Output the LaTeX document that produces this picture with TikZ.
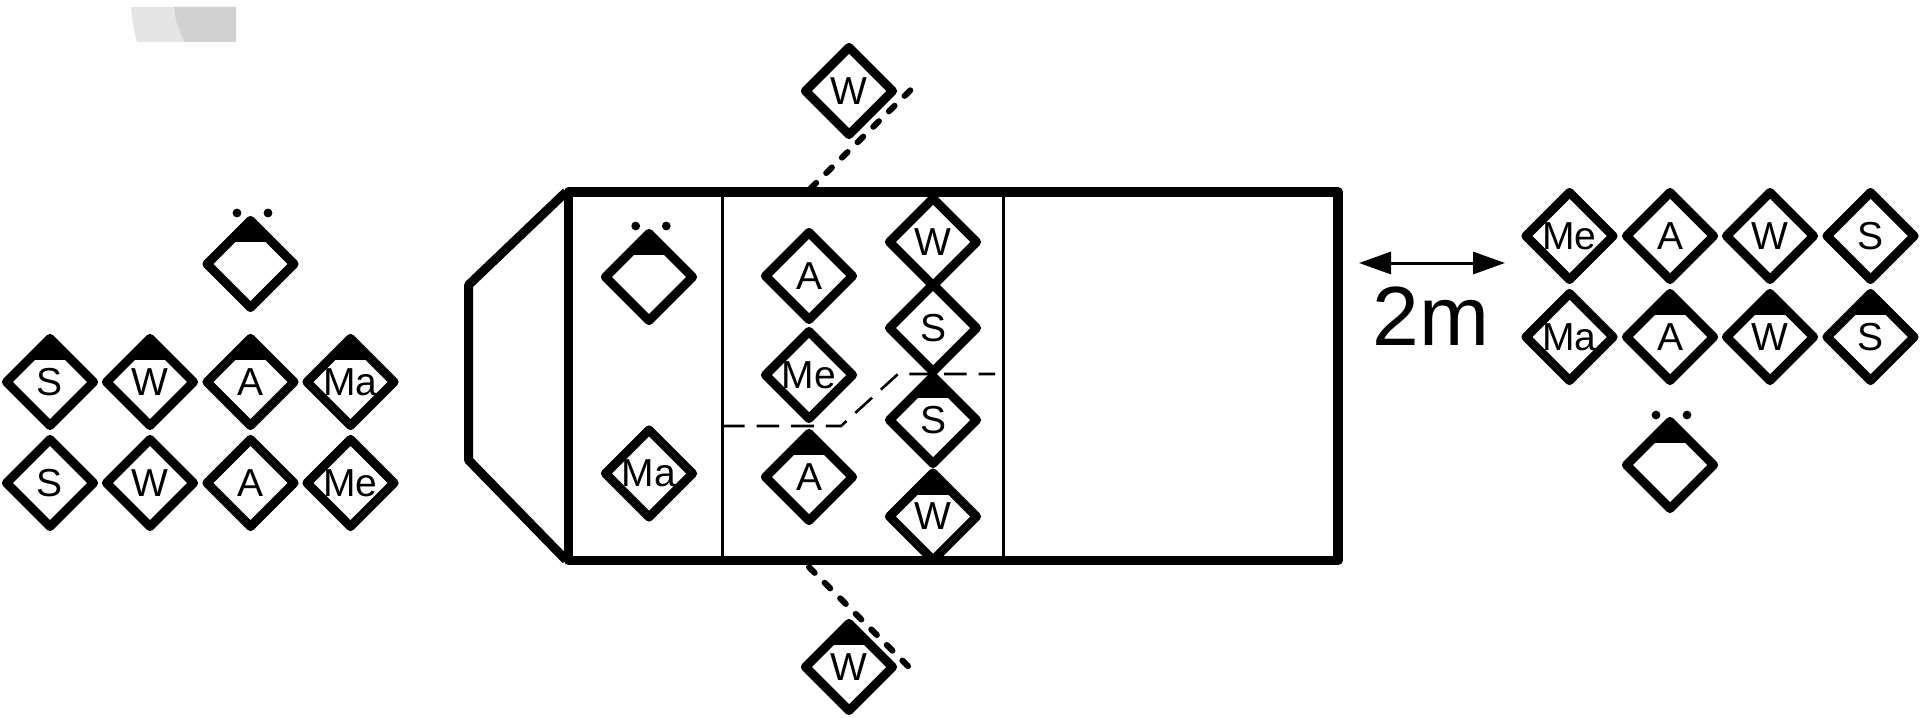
\documentclass[tikz,border=0pt]{standalone}
\usepackage{fontspec}
\setmainfont{Liberation Sans}
\usetikzlibrary{shapes.geometric,arrows.meta}
\tikzset{
  member/.style={diamond,draw,line width=4.5pt,line join=round,inner sep=0pt,outer sep=0pt,
    minimum width=43.6pt,minimum height=43.6pt,font=\fontsize{19.5}{19.5}\selectfont},
  facing/.style={path picture={\fill (path picture bounding box.north west) rectangle
    ([yshift=-11pt]path picture bounding box.north east);}},
  seat/.style={circle,fill,inner sep=0pt,minimum size=4.4pt},
  door/.style={line width=3pt,line cap=round,dash pattern=on 4pt off 7pt},
  split/.style={line width=1.3pt,dash pattern=on 11.3pt off 6pt}
}
\begin{document}
\begin{tikzpicture}[x=.5pt,y=-.5pt]
  \useasboundingbox (0,0) rectangle (1920,717);
  % shaded scrap
  \fill[black!10] (131,7) .. controls (132,20) and (134,32) .. (137,42) -- (236,42) -- (236,7) -- cycle;
  \fill[black!18] (174,7) .. controls (175,20) and (179,32) .. (185,42) -- (236,42) -- (236,7) -- cycle;
  % doors
  \coordinate (dooraa) at (810.5,188.5);
  \coordinate (doorab) at (910.3,90.3);
  \coordinate (doorba) at (809,567.2);
  \coordinate (doorbb) at (908.5,666.7);
  \draw[door] (dooraa) -- (doorab);
  \draw[door] (doorba) -- (doorbb);
  % vehicle
  \draw[line width=4.7pt,line join=round] (568.5,192) rectangle (1338,560.5);
  \draw[line width=4.5pt,line join=round] (566,192) -- (468.5,285) -- (468.5,460) -- (566,560);
  \draw[line width=1.3pt] (722.5,192) -- (722.5,560);
  \draw[line width=1.3pt] (1003.5,192) -- (1003.5,560);
  % people on the left
  \foreach \nx/\px/\lab in {a/50/S,b/150/W,c/250.5/A,d/350.5/Ma}
    \node[member,facing] (up\nx) at (\px,382) {\lab};
  \foreach \nx/\px/\lab in {a/50/S,b/150/W,c/250.5/A,d/350.5/Me}
    \node[member] (low\nx) at (\px,483) {\lab};
  \node[member,facing] (lonea) at (250.5,264) {};
  \node[seat] (lonead) at (237,213) {};
  \node[seat] (loneae) at (268,213) {};
  % people on the vehicle
  \node[member,facing] (loneb) at (649,277) {};
  \node[seat] (lonebd) at (635.7,226) {};
  \node[seat] (lonebe) at (666.3,226) {};
  \node[member] (ma) at (649,473.5) {Ma};
  \node[member] (aa) at (809,276) {A};
  \node[member] (me) at (809,375) {Me};
  \node[member,facing] (ab) at (809,477) {A};
  \node[member] (wa) at (933,242) {W};
  \node[member] (sa) at (933,328) {S};
  \node[member,facing] (sb) at (933,420) {S};
  \node[member,facing] (wb) at (933,516.5) {W};
  \node[member] (wc) at (849,91) {W};
  \node[member,facing] (wd) at (849,667) {W};
  % people on the right
  \foreach \nx/\px/\lab in {a/1569.5/Me,b/1670/A,c/1770/W,d/1870.5/S}
    \node[member] (top\nx) at (\px,236) {\lab};
  \node[member] (bota) at (1569.5,337) {Ma};
  \foreach \nx/\px/\lab in {b/1670/A,c/1770/W,d/1870.5/S}
    \node[member,facing] (bot\nx) at (\px,337) {\lab};
  \node[member,facing] (lonec) at (1670,465) {};
  \node[seat] (lonecd) at (1656,415) {};
  \node[seat] (lonece) at (1687,415) {};
  % dashed marks
  \coordinate (splita) at (722,426);
  \coordinate (splitb) at (841,426);
  \coordinate (splitc) at (898,374);
  \coordinate (splitd) at (995,374);
  \draw[split] (splita) -- (splitb) -- (splitc) -- (splitd);
  % scale
  \coordinate (scalea) at (1359,263);
  \coordinate (scaleb) at (1505,263);
  \draw[{Triangle[length=16pt,width=11pt]}-{Triangle[length=16pt,width=11pt]},line width=1.5pt] (scalea) -- (scaleb);
  \node[font=\fontsize{42}{42}\selectfont] (scalelab) at (1431,316) {2m};
\end{tikzpicture}
\end{document}
